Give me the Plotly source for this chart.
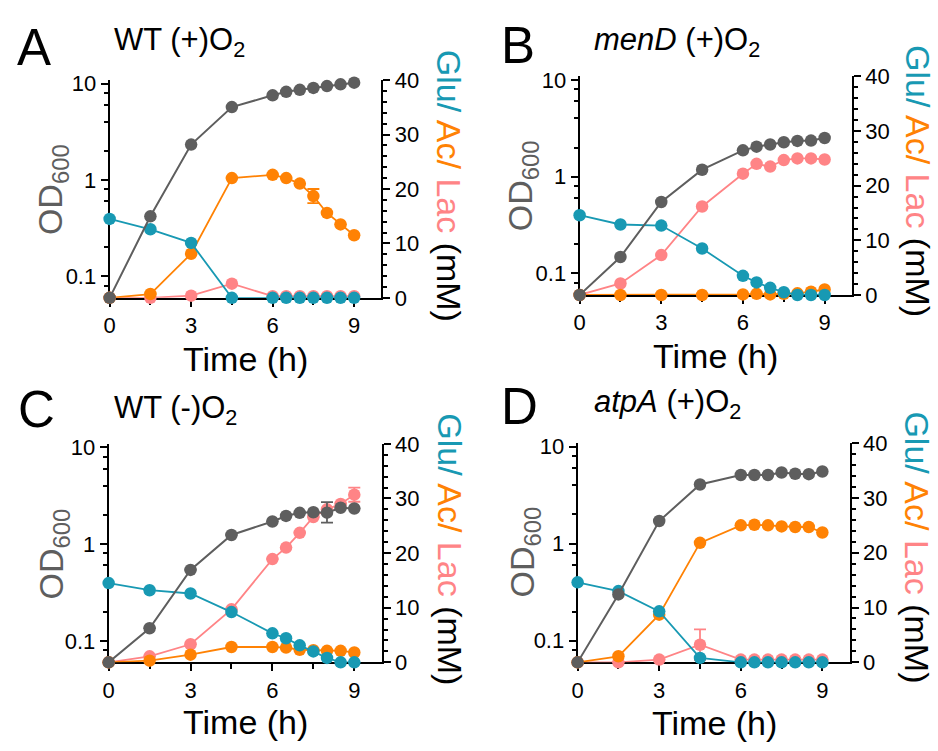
import math
import plotly.graph_objects as go

# ---------------- data ----------------
time = [0, 1.5, 3, 4.5, 6, 6.5, 7, 7.5, 8, 8.5, 9]

od_A = [0.06, 0.42, 2.33, 5.7, 7.55, 8.2, 8.6, 9.0, 9.4, 9.8, 10.2]
glu_A = [14.5, 12.6, 10.1, 0, 0, 0, 0, 0, 0, 0, 0]
ac_A = [0, 0.7, 8.1, 22.0, 22.6, 22.0, 21.0, 18.7, 15.6, 13.5, 11.5]
lac_A = [0, 0, 0.4, 2.6, 0.3, 0.3, 0.3, 0.3, 0.3, 0.3, 0.3]
ac_A_err = [0, 0, 0, 0, 0, 0, 0, 1.3, 0, 0, 0]

od_B = [0.06, 0.148, 0.548, 1.18, 1.87, 2.04, 2.15, 2.27, 2.34, 2.36, 2.51]
glu_B = [14.6, 12.9, 12.7, 8.5, 3.5, 2.3, 1.3, 0.5, 0, 0, 0]
ac_B = [0, 0, 0, 0, 0.1, 0.2, 0.1, 0.2, 0.3, 0.6, 1.0]
lac_B = [0, 2.1, 7.3, 16.2, 22.2, 24.0, 23.5, 24.7, 25.0, 25.0, 24.8]

od_C = [0.06, 0.135, 0.54, 1.24, 1.71, 1.95, 2.1, 2.13, 2.11, 2.37, 2.33]
od_C_err_plus = [0, 0, 0, 0, 0, 0, 0, 0, 0.6, 0, 0]
od_C_err_minus = [0, 0, 0, 0, 0, 0, 0, 0, 0.45, 0, 0]
glu_C = [14.5, 13.2, 12.6, 9.2, 5.3, 4.4, 3.1, 2.0, 0.8, 0, 0]
ac_C = [0, 0.3, 1.4, 2.8, 2.8, 2.7, 2.3, 2.2, 2.1, 2.1, 1.8]
lac_C = [0, 1.1, 3.3, 9.7, 18.9, 21.0, 23.7, 26.6, 28.0, 29.0, 30.7]
lac_C_err = [0, 0, 0, 0, 0, 0, 0, 0, 0, 0, 1.3]

od_D = [0.06, 0.30, 1.71, 4.07, 5.09, 5.09, 5.09, 5.41, 5.25, 5.2, 5.54]
glu_D = [14.6, 13.0, 9.3, 0.8, 0, 0, 0, 0, 0, 0, 0]
ac_D = [0, 1.1, 8.7, 21.8, 25.0, 25.1, 25.0, 24.8, 24.7, 24.7, 23.7]
lac_D = [0, 0, 0.5, 3.2, 0.5, 0.5, 0.5, 0.5, 0.5, 0.5, 0.5]
lac_D_err = [0, 0, 0, 2.8, 0, 0, 0, 0, 0, 0, 0]

panel_letters = ["A", "B", "C", "D"]
panel_titles = ["WT (+)O<sub>2</sub>", "<i>menD</i> (+)O<sub>2</sub>",
                "WT (-)O<sub>2</sub>", "<i>atpA</i> (+)O<sub>2</sub>"]
x_ticks = [0, 3, 6, 9]
x_minor = [1.5, 4.5, 7.5]
od_ticks = [0.1, 1, 10]
od_ticktext = ["0.1", "1", "10"]
od_minor = [0.08, 0.2, 0.4, 0.6, 0.8, 2, 4, 6, 8]
mm_ticks = [0, 10, 20, 30, 40]

# ---------------- style ----------------
W, H = 938, 751
FONT = "Liberation Sans, Arial, sans-serif"
GREY = "#5e5e5e"
GLU = "#1899b3"
AC = "#ff8204"
LAC = "#ff8486"

# plot-area pixel boxes: (left, right, top, bottom)
boxes = [(104.3, 377.7, 70.5, 295.7),
         (577.3, 851.3, 66.7, 292.7),
         (103.3, 378.0, 446.7, 672.7),
         (575.3, 849.0, 446.0, 672.7)]

def px(x):
    return x / W

def py(y):
    return 1 - y / H

data = [
    dict(od=od_A, glu=glu_A, ac=ac_A, lac=lac_A, ac_err=ac_A_err),
    dict(od=od_B, glu=glu_B, ac=ac_B, lac=lac_B),
    dict(od=od_C, glu=glu_C, ac=ac_C, lac=lac_C, od_errp=od_C_err_plus,
         od_errm=od_C_err_minus, lac_err=lac_C_err),
    dict(od=od_D, glu=glu_D, ac=ac_D, lac=lac_D, lac_err=lac_D_err),
]

fig = go.Figure()
layout = dict(width=W, height=H, margin=dict(l=0, r=0, t=0, b=0),
              paper_bgcolor="white", plot_bgcolor="rgba(0,0,0,0)",
              showlegend=False, font=dict(family=FONT, color="black"))

def err(arr, color, minus=None):
    if arr is None:
        return None
    d = dict(type="data", array=arr, visible=True, color=color,
             thickness=1.8, width=6)
    if minus is not None:
        d["symmetric"] = False
        d["arrayminus"] = minus
    return d

for i, d in enumerate(data):
    n = "" if i == 0 else str(i + 1)
    xa = "x" + n
    ymm = "y" + ("" if i == 0 else str(2 * i + 1))
    yod = "y" + str(2 * i + 2)
    l, r, t, b = boxes[i]

    def add(y, color, yaxis, e=None, lw=1.8):
        fig.add_trace(go.Scatter(
            x=time, y=y, xaxis=xa, yaxis=yaxis, mode="lines+markers",
            line=dict(color=color, width=lw),
            marker=dict(color=color, size=12.5, line=dict(width=0)),
            error_y=e, cliponaxis=False, hoverinfo="skip"))

    add(d["lac"], LAC, ymm, err(d.get("lac_err"), LAC))
    add(d["ac"], AC, ymm, err(d.get("ac_err"), AC))
    add(d["glu"], GLU, ymm)
    add(d["od"], GREY, yod, err(d.get("od_errp"), GREY, d.get("od_errm")), lw=2)

    common = dict(showline=True, linecolor="black", linewidth=2,
                  ticks="outside", tickcolor="black", tickwidth=2,
                  showgrid=False, zeroline=False, layer="below traces",
                  tickfont=dict(size=22, family=FONT, color="black"))
    layout["xaxis" + n] = dict(
        domain=[px(l), px(r)], range=[0, 10], anchor=ymm,
        tickmode="array", tickvals=x_ticks, ticklen=7,
        minor=dict(tickmode="array", tickvals=x_minor, ticks="outside",
                   ticklen=5, tickwidth=2, tickcolor="black", showgrid=False),
        **common)
    layout["yaxis" + ("" if i == 0 else str(2 * i + 1))] = dict(
        domain=[py(b), py(t)], range=[0, 40], anchor=xa, side="right",
        tickmode="array", tickvals=mm_ticks, ticklen=7,
        minor=dict(dtick=2, ticks="outside", ticklen=4, tickwidth=2,
                   tickcolor="black", showgrid=False),
        **common)
    layout["yaxis" + str(2 * i + 2)] = dict(
        type="log", range=[math.log10(0.06), 1.035], anchor=xa, side="left",
        overlaying=ymm, tickmode="array", tickvals=od_ticks,
        ticktext=od_ticktext, ticklen=7,
        minor=dict(tickmode="array", tickvals=od_minor, ticks="outside",
                   ticklen=4, tickwidth=2, tickcolor="black", showgrid=False),
        **common)

annotations = []
letter_pos = [(28.5, 36.5), (515.5, 35), (30.5, 411), (516.5, 408.5)]
title_pos = [(107, 31), (589.7, 31), (107, 412), (589.7, 405)]
od_pos = [(47, 183.5), (520, 179.5), (47.5, 561), (521.5, 559)]
mm_pos = [(446, 180), (918, 175), (446, 556), (917, 554)]
time_pos = [(241, 358.5), (714.5, 356), (241, 734.5), (713, 735)]
mm_title = (f'<span style="color:{GLU}">Glu/</span> '
            f'<span style="color:{AC}">Ac/</span> '
            f'<span style="color:{LAC}">Lac</span> (mM)')

for i in range(4):
    annotations.append(dict(text=panel_letters[i], x=px(letter_pos[i][0]),
                            y=py(letter_pos[i][1]), xref="paper", yref="paper",
                            xanchor="center", yanchor="middle", showarrow=False,
                            font=dict(size=51, family=FONT, color="black")))
    annotations.append(dict(text=panel_titles[i], x=px(title_pos[i][0]),
                            y=py(title_pos[i][1]), xref="paper", yref="paper",
                            xanchor="left", yanchor="middle", showarrow=False,
                            font=dict(size=31, family=FONT, color="black")))
    annotations.append(dict(text="OD<sub>600</sub>", x=px(od_pos[i][0]),
                            y=py(od_pos[i][1]), xref="paper", yref="paper",
                            xanchor="center", yanchor="middle", showarrow=False,
                            textangle=-90,
                            font=dict(size=34, family=FONT, color=GREY)))
    annotations.append(dict(text=mm_title, x=px(mm_pos[i][0]),
                            y=py(mm_pos[i][1]), xref="paper", yref="paper",
                            xanchor="center", yanchor="middle", showarrow=False,
                            textangle=90,
                            font=dict(size=34, family=FONT, color="black")))
    annotations.append(dict(text="Time (h)", x=px(time_pos[i][0]),
                            y=py(time_pos[i][1]), xref="paper", yref="paper",
                            xanchor="center", yanchor="middle", showarrow=False,
                            font=dict(size=34, family=FONT, color="black")))

layout["annotations"] = annotations
fig.update_layout(**layout)
fig.write_html("out.html",
               config={"displayModeBar": False},
               post_script="document.body.style.margin='0';"
                           "document.body.style.overflow='hidden';")
